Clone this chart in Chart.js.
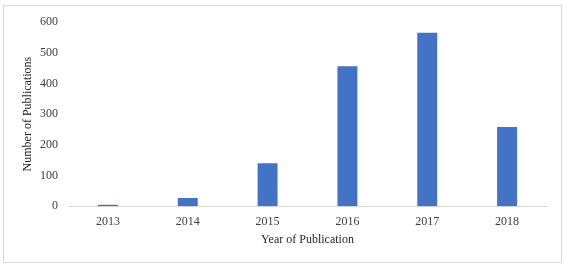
<!DOCTYPE html>
<html><head><meta charset="utf-8">
<script src="https://cdn.jsdelivr.net/npm/chart.js"></script>
<style>html,body{margin:0;padding:0;background:#fff}#wrap{width:564px;height:264px;position:relative}</style>
</head><body><div id="wrap"><canvas id="c" width="564" height="264"></canvas></div>
<script>
const categories = ['2013','2014','2015','2016','2017','2018'];
const publications = [5, 27, 140, 456, 565, 258];
const yTicks = [0,100,200,300,400,500,600];

const borderPlugin = {
  id:'border',
  beforeDraw(chart){
    const ctx = chart.ctx;
    ctx.save();
    ctx.fillStyle='#fff';
    ctx.fillRect(0,0,chart.width,chart.height);
    ctx.strokeStyle='#d9d9d9';
    ctx.lineWidth=1;
    ctx.strokeRect(3.5,5.5,558,257);
    ctx.restore();
  }
};

new Chart(document.getElementById('c'), {
  type:'bar',
  data:{labels:categories, datasets:[{data:publications, backgroundColor:'#4472C4', barPercentage:0.5, categoryPercentage:0.5}]},
  options:{
    responsive:false, animation:false,
    layout:{padding:{left:17,right:17,top:22,bottom:17}},
    plugins:{legend:{display:false}, tooltip:{enabled:false}},
    scales:{
      x:{
        grid:{display:false, drawTicks:false},
        border:{display:true,color:'#d9d9d9',width:1},
        ticks:{padding:8,color:'#404040',font:{family:'Liberation Serif',size:12}},
        title:{display:true,text:'Year of Publication',color:'#262626',font:{family:'Liberation Serif',size:12},padding:{top:-4,bottom:0}}
      },
      y:{
        min:0,max:600,
        afterBuildTicks(s){ s.ticks = yTicks.map(v=>({value:v})); },
        afterFit(s){ s.width = 51; },
        grid:{display:false, drawTicks:false},
        border:{display:false},
        ticks:{padding:10,color:'#404040',font:{family:'Liberation Serif',size:12}},
        title:{display:true,text:'Number of Publications',color:'#262626',font:{family:'Liberation Serif',size:12},padding:{top:4,bottom:0}}
      }
    }
  },
  plugins:[borderPlugin]
});
</script></body></html>
